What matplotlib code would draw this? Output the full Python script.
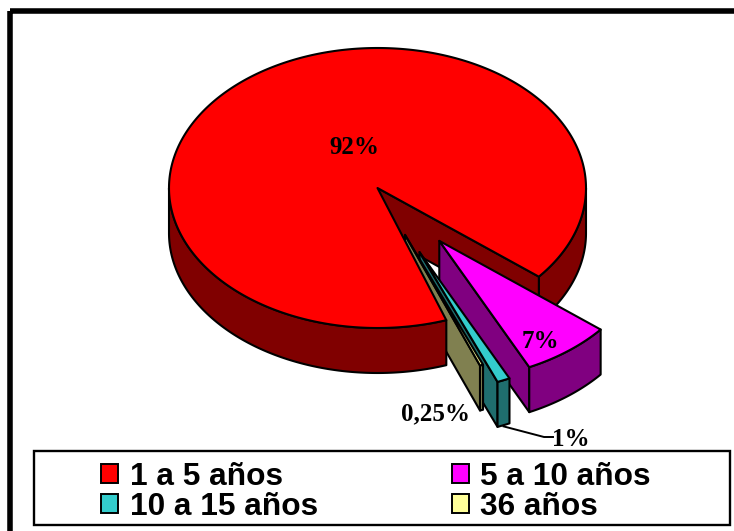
import numpy as np
import matplotlib
matplotlib.use("Agg")
import matplotlib.pyplot as plt
from matplotlib.patches import Polygon, Rectangle, Patch

categories = ["1 a 5 años", "5 a 10 años", "10 a 15 años", "36 años"]
values = [92, 7, 1, 0.25]
value_labels = ["92%", "7%", "1%", "0,25%"]
top_colors = ["#FF0000", "#FF00FF", "#33CCCC", "#FFFF99"]
side_colors = ["#800000", "#800080", "#1F6E6E", "#808050"]
explode = [0.0, 0.48, 0.50, 0.36]
legend_order = [0, 2, 1, 3]   # row by row in the picture

CX, CY, RX, RY, DEPTH = 377.5, 188.0, 208.5, 140.0, 45.0
START = 39.3      # where the first exploded slice begins, clockwise from 3 o'clock
MAIN_GAP = 1.8    # slight gap left by the big slice next to the small ones
LW = 1.5

fig = plt.figure(figsize=(7.34, 5.31), dpi=100, facecolor="white")
ax = fig.add_axes([0, 0, 1, 1])
ax.set_xlim(0, 734)
ax.set_ylim(531, 0)
ax.axis("off")

# outer frame
ax.add_patch(Rectangle((9.7, 10.8), 740, 530, fill=False, ec="black", lw=4.0, zorder=1))

def pt(a, cx, cy, dz=0.0):
    r = np.radians(a)
    return cx + RX * np.cos(r), cy + RY * np.sin(r) + dz

def arc(a0, a1, cx, cy, dz=0.0):
    t = np.linspace(a0, a1, max(int(abs(a1 - a0)) * 2, 2) + 1)
    return np.column_stack(pt(t, cx, cy, dz))

def add(poly, fc, z):
    ax.add_patch(Polygon(poly, closed=True, fc=fc, ec="black", lw=LW, joinstyle="round", zorder=z))

def rim(a0, a1, cx, cy, fc, z):
    add(np.vstack([arc(a0, a1, cx, cy), arc(a1, a0, cx, cy, DEPTH)]), fc, z)

def wall(a, cx, cy, fc, z):
    add(np.vstack([[cx, cy], pt(a, cx, cy), pt(a, cx, cy, DEPTH), [cx, cy + DEPTH]]), fc, z)

def draw_slice(a0, a1, ex, top, side, z):
    mid = np.radians((a0 + a1) / 2)
    cx = CX + ex * RX * np.cos(mid)
    cy = CY + ex * RY * np.sin(mid)
    wall(a1, cx, cy, side, z)
    rim(a0, a1, cx, cy, side, z + 0.1)
    add(np.vstack([[cx, cy], arc(a0, a1, cx, cy)]), top, z + 0.2)
    return cx, cy

deg = 360.0 / sum(values)
spans = [v * deg for v in values]
a_mag = (START, START + spans[1])
a_cya = (a_mag[1], a_mag[1] + spans[2])
a_yel = (a_cya[1], a_cya[1] + spans[3])
a_red = (a_yel[1] + MAIN_GAP, START + 360)

# back of the big slice: its rim on the right and the cut wall facing the viewer
rim(360, a_red[1], CX, CY, side_colors[0], 2)
wall(a_red[1], CX, CY, side_colors[0], 2.1)

draw_slice(*a_mag, explode[1], top_colors[1], side_colors[1], 3)
cx_c, cy_c = draw_slice(*a_cya, explode[2], top_colors[2], side_colors[2], 4)
draw_slice(*a_yel, explode[3], top_colors[3], side_colors[3], 5)

# front of the big slice lies over the small slices
rim(a_red[0], 180, CX, CY, side_colors[0], 5.5)
add(np.vstack([[CX, CY], arc(a_red[0], a_red[1], CX, CY)]), top_colors[0], 5.6)

# value labels
serif = dict(family="Liberation Serif", weight="bold", size=18, color="black",
             ha="center", va="center", zorder=8)
ax.text(354.5, 147, value_labels[0], **serif)
ax.text(540.5, 341, value_labels[1], **serif)
ax.text(571, 439, value_labels[2], **serif)
ax.text(435, 414, value_labels[3], **serif)

# leader line of the 1% label
p_end = pt(a_cya[0], cx_c, cy_c, DEPTH)
ax.plot([p_end[0] - 6, 544, 553], [p_end[1] + 3, 437, 437], color="black", lw=1.4, zorder=7)

# legend
ax.add_patch(Rectangle((33.5, 450.5), 696, 74, fc="white", ec="black", lw=1.7, zorder=6))
handles = [Patch(fc=top_colors[i], ec="black", lw=1.4) for i in legend_order]
labels = [categories[i] for i in legend_order]
leg = ax.legend(handles, labels, ncol=2, frameon=False, loc="upper left",
                bbox_to_anchor=(101, 462), bbox_transform=ax.transData,
                borderaxespad=0, borderpad=0, handlelength=0.55, handleheight=0.55,
                handletextpad=0.36, columnspacing=4.22, labelspacing=0.0,
                prop=dict(family="Liberation Sans", weight="bold", size=22.8))
leg.set_zorder(9)

fig.savefig("out.png", dpi=100)
